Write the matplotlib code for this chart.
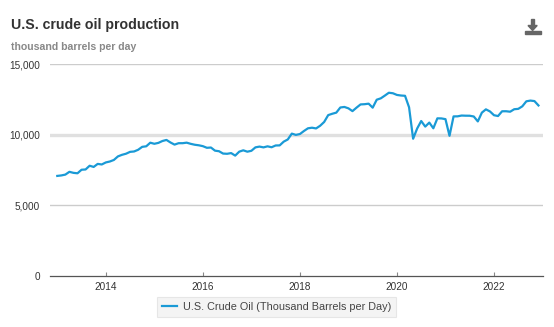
import numpy as np
import matplotlib
matplotlib.use("Agg")
import matplotlib.pyplot as plt
from matplotlib.patches import Rectangle, Polygon

plt.rcParams["font.family"] = ["Liberation Sans", "DejaVu Sans"]

# monthly production, thousand barrels per day, Jan 2013 .. Dec 2022
prod_2013 = [7082, 7115, 7175, 7372, 7298, 7268, 7518, 7538, 7801, 7717, 7932, 7891]
prod_2014 = [8035, 8101, 8211, 8462, 8574, 8652, 8784, 8811, 8931, 9138, 9177, 9431]
prod_2015 = [9355, 9418, 9551, 9627, 9446, 9296, 9396, 9397, 9434, 9351, 9287, 9248]
prod_2016 = [9187, 9071, 9090, 8869, 8828, 8663, 8647, 8696, 8518, 8798, 8893, 8796]
prod_2017 = [8858, 9101, 9156, 9101, 9175, 9110, 9235, 9241, 9507, 9660, 10074, 9984]
prod_2018 = [10044, 10259, 10451, 10492, 10441, 10629, 10898, 11384, 11479, 11559, 11923, 11961]
prod_2019 = [11863, 11666, 11911, 12140, 12156, 12193, 11911, 12474, 12570, 12763, 12966, 12930]
prod_2020 = [12811, 12770, 12750, 11935, 9711, 10436, 10965, 10571, 10855, 10452, 11155, 11149]
prod_2021 = [11098, 9919, 11292, 11297, 11353, 11342, 11339, 11286, 10938, 11558, 11792, 11644]
prod_2022 = [11376, 11318, 11655, 11657, 11624, 11799, 11826, 12004, 12360, 12411, 12377, 12067]

years = list(range(2013, 2023))
production = (prod_2013 + prod_2014 + prod_2015 + prod_2016 + prod_2017
              + prod_2018 + prod_2019 + prod_2020 + prod_2021 + prod_2022)
x_vals = [y + m / 12 for y in years for m in range(12)]

y_ticks = [0, 5000, 10000, 15000]
x_ticks = [2014, 2016, 2018, 2020, 2022]

W, H = 554, 327
fig = plt.figure(figsize=(W / 100, H / 100), dpi=100)
ax = fig.add_axes([50 / W, 1 - 276 / H, (543 - 50) / W, (276 - 64) / H])

# grid lines
for v in y_ticks[1:]:
    if v == 10000:
        ax.axhline(v, color="#e0e0e0", lw=2.4, zorder=0)
    else:
        ax.axhline(v, color="#cccccc", lw=1.0, zorder=0)

ax.plot(x_vals, production, color="#1a9ad6", lw=1.6, solid_joinstyle="round",
        label="U.S. Crude Oil (Thousand Barrels per Day)")

ax.set_ylim(0, 15000)
ax.set_xlim(2012.85, 2023.01)
ax.set_yticks(y_ticks)
ax.set_yticklabels([f"{v:,}" for v in y_ticks])
ax.set_xticks(x_ticks)
ax.set_xticklabels([str(v) for v in x_ticks])

for s in ["top", "right", "left"]:
    ax.spines[s].set_visible(False)
ax.spines["bottom"].set_color("#555555")
ax.spines["bottom"].set_linewidth(0.9)
ax.tick_params(axis="y", length=0, pad=7, labelsize=7.2, labelcolor="#333333")
ax.tick_params(axis="x", length=3, direction="in", color="#888888", pad=4.5,
               labelsize=7.2, labelcolor="#333333")

# title and subtitle
fig.text(11 / W, 1 - 25 / H, "U.S. crude oil production", fontsize=10.2,
         fontweight="bold", color="#333333", va="center", ha="left")
fig.text(11 / W, 1 - 47 / H, "thousand barrels per day", fontsize=7.6,
         fontweight="bold", color="#888888", va="center", ha="left")

# download icon
icon_col = "#666666"
fig.patches.append(Rectangle((524.5 / W, 1 - 34 / H), 16 / W, 3 / H,
                             transform=fig.transFigure, color=icon_col))
fig.patches.append(Rectangle((531.3 / W, 1 - 26 / H), 2.6 / W, 7 / H,
                             transform=fig.transFigure, color=icon_col))
fig.patches.append(Polygon([(528 / W, 1 - 25.5 / H), (537.2 / W, 1 - 25.5 / H),
                            (532.6 / W, 1 - 30.5 / H)], closed=True,
                           transform=fig.transFigure, color=icon_col))

# legend
leg = ax.legend(loc="center", bbox_to_anchor=(276.5 / W, 1 - 307 / H),
                bbox_transform=fig.transFigure, frameon=True, fancybox=False,
                fontsize=7.8, handlelength=1.4, handletextpad=0.5,
                borderpad=0.5, labelcolor="#444444")
leg.get_frame().set_facecolor("#f2f2f2")
leg.get_frame().set_edgecolor("#e2e2e2")
leg.get_frame().set_linewidth(0.8)

fig.savefig("out.png", dpi=100)
